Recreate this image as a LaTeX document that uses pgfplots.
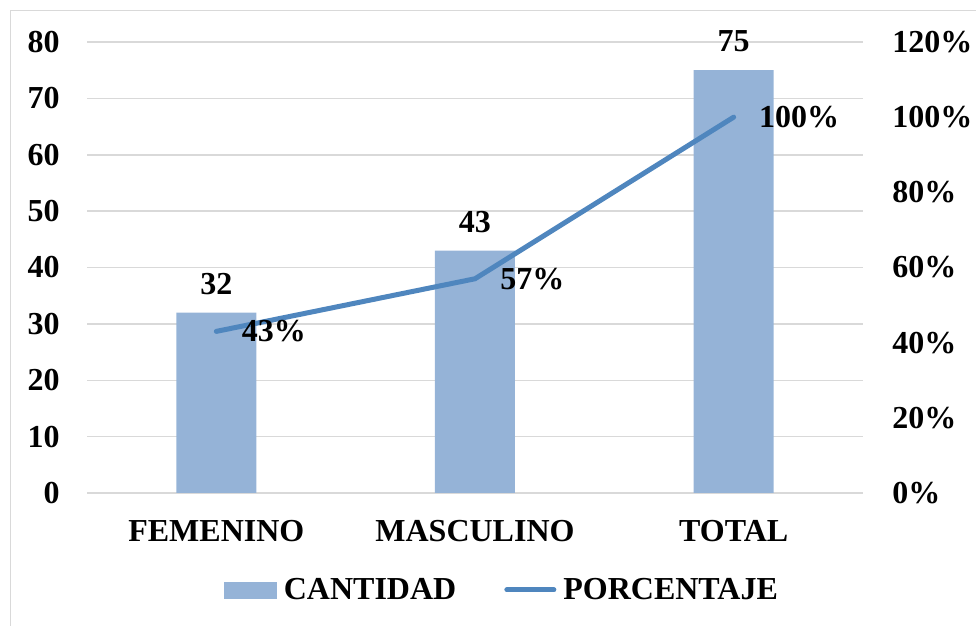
\documentclass[border=0pt]{standalone}
\usepackage{pgfplots}
\pgfplotsset{compat=1.18}
\usepackage{fontspec}
\setmainfont{Liberation Serif}
\definecolor{barblue}{HTML}{95B3D7}
\definecolor{lineblue}{HTML}{4F86BE}
\definecolor{gridgray}{HTML}{D9D9D9}
\newcommand{\lbl}{\fontsize{16}{19}\selectfont\bfseries}
\begin{document}
\begin{tikzpicture}
\path[use as bounding box] (-43.5pt,-66.5pt) rectangle (444.5pt,246.5pt);
\draw[gridgray, line width=0.7pt] (-38.25pt,-90pt) -- (-38.25pt,241.25pt) -- (470pt,241.25pt);
\begin{axis}[
  at={(0,0)}, anchor=south west,
  scale only axis, width=388pt, height=225.5pt,
  xmin=-0.5, xmax=2.5, ymin=0, ymax=80,
  xtick={0,1,2}, xticklabels={FEMENINO,MASCULINO,TOTAL},
  ytick={0,10,...,80},
  ymajorgrids, grid style={gridgray, line width=0.75pt},
  axis line style={draw=none}, major tick length=0pt,
  tick label style={font=\lbl, inner sep=0pt},
  /pgf/number format/assume math mode=true,
  yticklabel style={anchor=east, xshift=-13.5pt},
  xticklabel style={anchor=north, yshift=-13.25pt},
  clip=false,
]
\addplot[ybar, bar width=40pt, fill=barblue, draw=none,
  nodes near coords, nodes near coords style={font=\lbl, inner sep=0pt, anchor=south, yshift=8.9pt}]
  coordinates {(0,32) (1,43) (2,75)};
\end{axis}
\begin{axis}[
  at={(0,0)}, anchor=south west,
  scale only axis, width=388pt, height=225.5pt,
  xmin=-0.5, xmax=2.5, ymin=0, ymax=120,
  axis y line*=right, hide x axis,
  ytick={0,20,...,120},
  yticklabel={\pgfmathprintnumber{\tick}\%},
  axis line style={draw=none}, major tick length=0pt,
  tick label style={font=\lbl, inner sep=0pt},
  /pgf/number format/assume math mode=true,
  yticklabel style={anchor=west, xshift=14.5pt},
  clip=false,
  legend columns=2,
  legend style={at={(0.5335,-0.215)}, anchor=center, draw=none, fill=none,
    inner sep=0pt, font=\lbl, nodes={inner sep=0pt},
    column sep=3.5pt,
    /tikz/every even column/.append style={column sep=24pt}},
]
\addlegendimage{legend image code/.code={\fill[barblue] (0pt,-4pt) rectangle (26pt,4pt);}}
\addlegendentry{CANTIDAD}
\addplot[lineblue, line width=2.5pt, line cap=round, line join=round, mark=none,
  legend image code/.code={\draw[lineblue, line width=2.5pt, line cap=round] (1.25pt,0pt) -- (24.75pt,0pt);},
  nodes near coords={\pgfmathprintnumber{\pgfplotspointmeta}\%},
  nodes near coords style={font=\lbl, inner sep=0pt, anchor=west, xshift=11.5pt, text=black}]
  coordinates {(0,43) (1,57) (2,100)};
\addlegendentry{PORCENTAJE}
\end{axis}
\end{tikzpicture}
\end{document}
